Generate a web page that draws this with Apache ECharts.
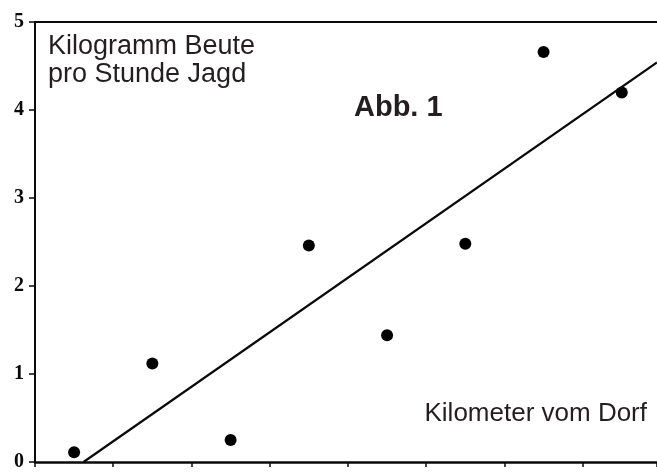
<!DOCTYPE html>
<html>
<head>
<meta charset="utf-8">
<script src="https://cdn.jsdelivr.net/npm/echarts@6/dist/echarts.min.js"></script>
<style>html,body{margin:0;padding:0;background:#fff;}#c{width:657px;height:472px;}</style>
</head>
<body>
<div id="c"></div>
<script>
// Data
const kmValues = [0.5, 1.5, 2.5, 3.5, 4.5, 5.5, 6.5, 7.5];
const kgValues = [0.11, 1.12, 0.25, 2.46, 1.44, 2.48, 4.66, 4.2];
const fitX = [0.62, 7.95];
const fitY = [0, 4.54];
const yTicks = [0, 1, 2, 3, 4, 5];
const yLabelText = "Kilogramm Beute";
const yLabelText2 = "pro Stunde Jagd";
const xLabelText = "Kilometer vom Dorf";
const titleText = "Abb. 1";

const chart = echarts.init(document.getElementById('c'), null, {renderer: 'canvas'});
const ink = '#0a0a0a';
const textColor = '#231f20';
const sans = '"Liberation Sans", Arial, sans-serif';

chart.setOption({
  animation: false,
  backgroundColor: '#fff',
  grid: {left: 35, top: 22, right: 0, bottom: 5, containLabel: false},
  xAxis: [
    {
      type: 'value', min: 0, max: 7.95, interval: 1, position: 'bottom',
      axisLine: {show: true, lineStyle: {color: ink, width: 2.5}},
      axisTick: {show: true, inside: false, length: 5, lineStyle: {color: ink, width: 1.5}},
      axisLabel: {show: false},
      splitLine: {show: false}
    },
    {
      type: 'value', min: 0, max: 7.95, interval: 1, position: 'top',
      axisLine: {show: true, onZero: false, lineStyle: {color: ink, width: 2}},
      axisTick: {show: false},
      axisLabel: {show: false},
      splitLine: {show: false}
    }
  ],
  yAxis: {
    type: 'value', min: yTicks[0], max: yTicks[yTicks.length - 1], interval: 1,
    axisLine: {show: true, lineStyle: {color: ink, width: 2}},
    axisTick: {show: true, inside: false, length: 6, lineStyle: {color: ink, width: 1.5}},
    axisLabel: {show: true, margin: 11, color: ink, fontFamily: '"Liberation Serif", "Times New Roman", serif', fontWeight: 'bold', fontSize: 20},
    splitLine: {show: false}
  },
  series: [
    {
      type: 'line', xAxisIndex: 0,
      data: fitX.map((x, i) => [x, fitY[i]]),
      symbol: 'none', clip: true,
      lineStyle: {color: ink, width: 2.2}
    },
    {
      type: 'scatter', xAxisIndex: 0,
      data: kmValues.map((x, i) => [x, kgValues[i]]),
      symbol: 'circle', symbolSize: 12,
      itemStyle: {color: '#000', opacity: 1}
    }
  ],
  graphic: [
    {type: 'text', left: 48, top: 33, style: {text: yLabelText, fill: textColor, font: '27px ' + sans}},
    {type: 'text', left: 48, top: 61, style: {text: yLabelText2, fill: textColor, font: '27px ' + sans}},
    {type: 'text', left: 354, top: 93, style: {text: titleText, fill: textColor, font: 'bold 29px ' + sans}},
    {type: 'text', right: 10, top: 401, style: {text: xLabelText, fill: textColor, font: '26px ' + sans}}
  ]
});
</script>
</body>
</html>
